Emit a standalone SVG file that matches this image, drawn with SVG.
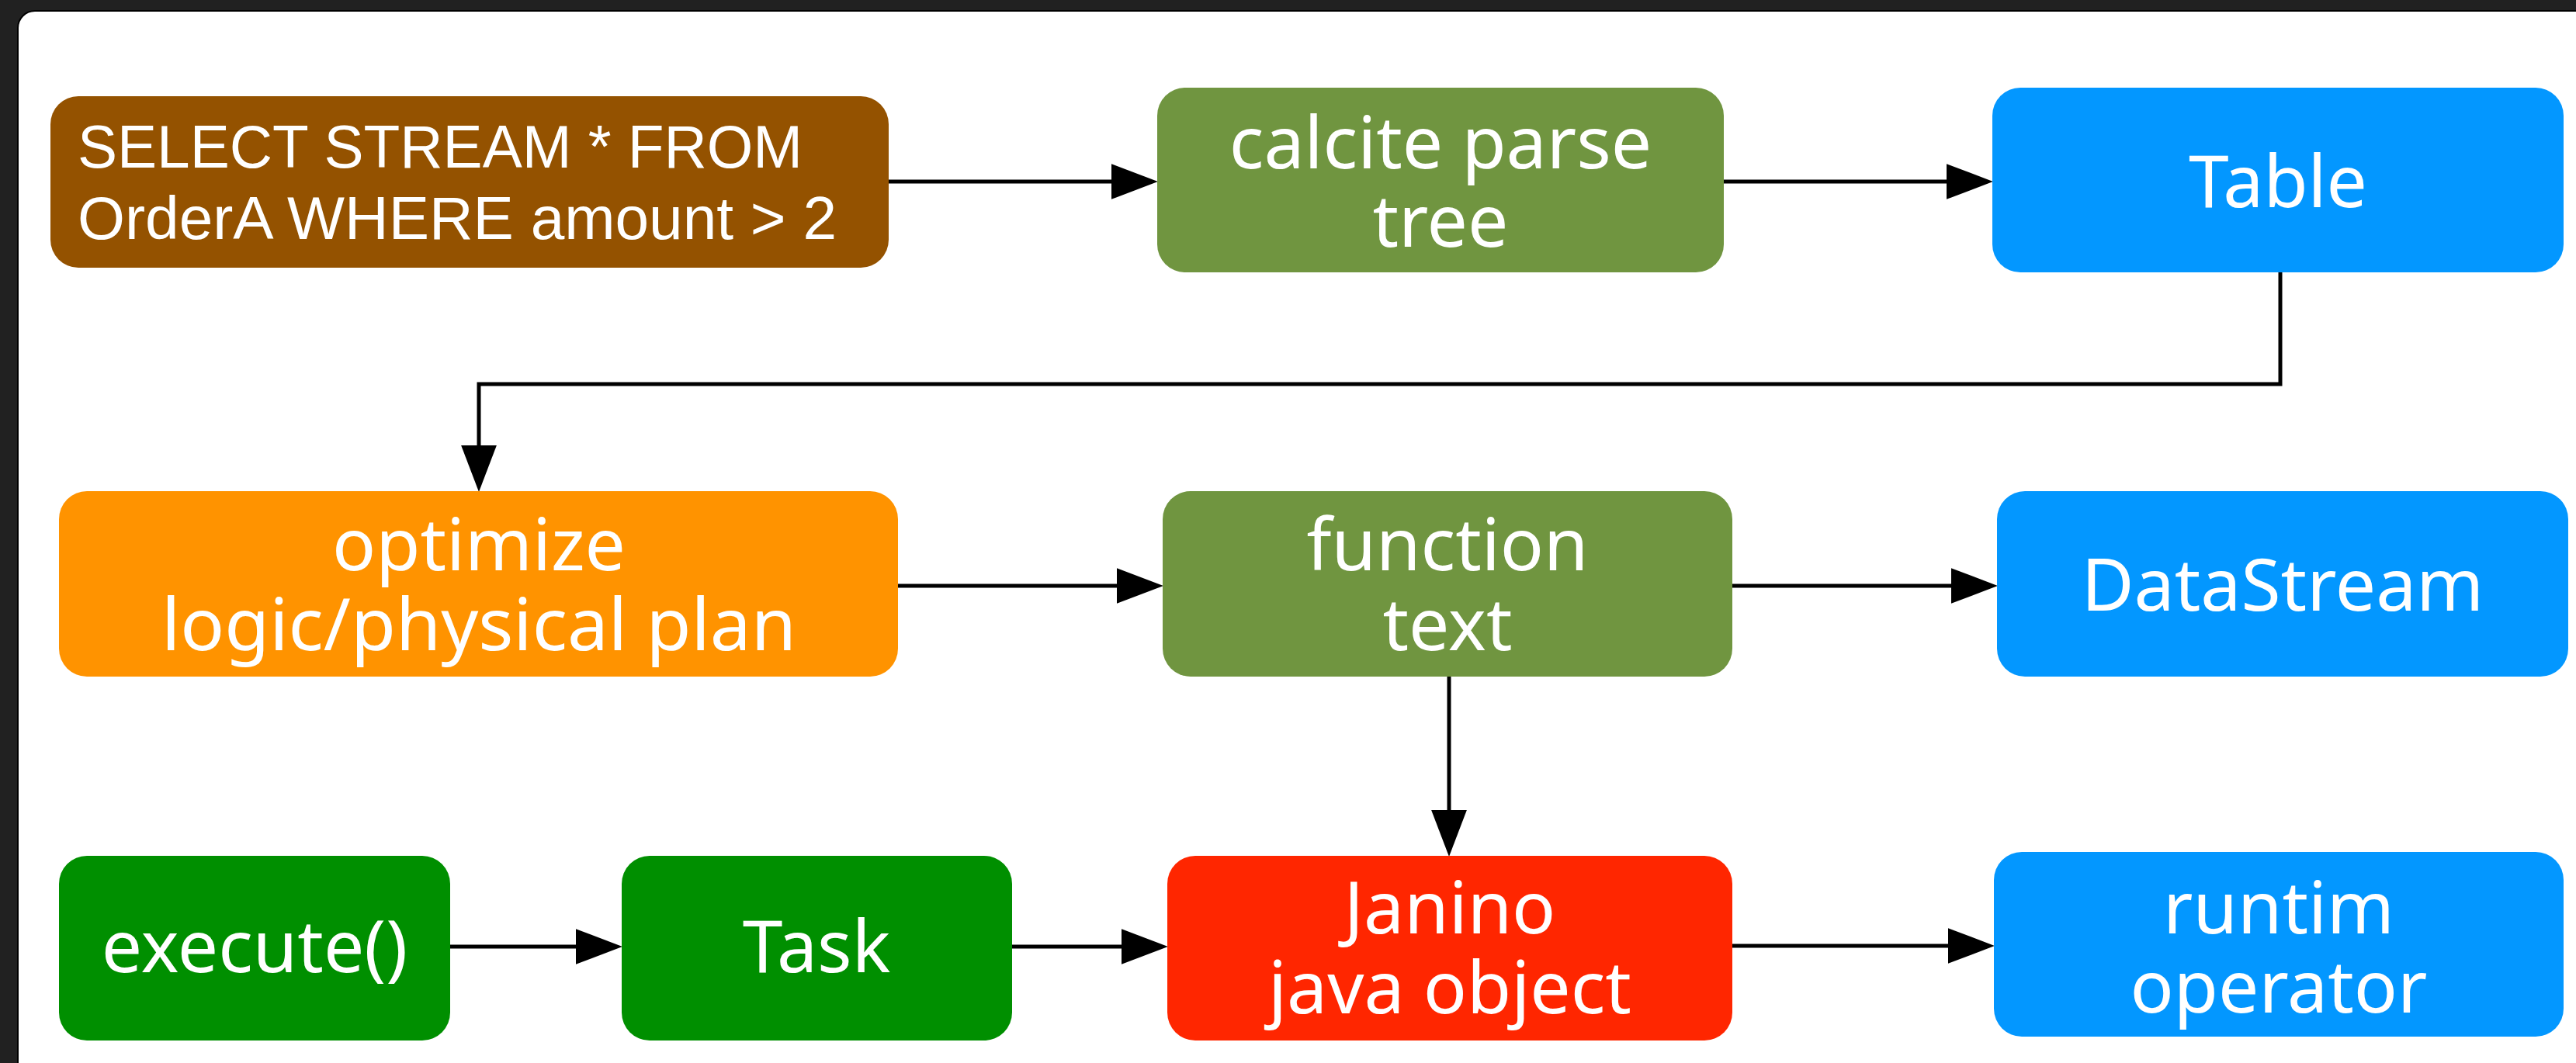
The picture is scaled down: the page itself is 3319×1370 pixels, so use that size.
<svg xmlns="http://www.w3.org/2000/svg" width="3319" height="1370" viewBox="0 0 3319 1370">
  <style>
    .node rect { rx: 36px; ry: 36px; }
    .label { font-family: "Noto Sans", "Open Sans", sans-serif; font-size: 93px; fill: #ffffff; text-anchor: middle; }
    .sql { font-family: "Liberation Sans", Arial, sans-serif; font-size: 78px; fill: #ffffff; }
    .edge { fill: none; stroke: #000000; stroke-width: 5; stroke-linejoin: miter; marker-end: url(#arrow); }
  </style>
  <defs>
    <marker id="arrow" markerUnits="userSpaceOnUse" markerWidth="60" markerHeight="46" viewBox="0 0 55 42" refX="45" refY="21" orient="auto">
      <path d="M0,0 L55,21 L0,42 Z" fill="#000000"/>
    </marker>
  </defs>

  <!-- window frame and canvas -->
  <rect x="0" y="0" width="3319" height="1370" fill="#212121"/>
  <rect x="23" y="14" width="3340" height="1390" rx="22" ry="22" fill="#ffffff" stroke="#000000" stroke-width="2"/>

  <!-- connectors -->
  <g id="connectors">
    <path class="edge" d="M1145,234 H1481"/>
    <path class="edge" d="M2221,234 H2557"/>
    <path class="edge" d="M2938,351 V495 H617 V623"/>
    <path class="edge" d="M1157,755 H1488"/>
    <path class="edge" d="M2232,755 H2563"/>
    <path class="edge" d="M1867,872 V1093"/>
    <path class="edge" d="M580,1220 H791"/>
    <path class="edge" d="M1304,1220 H1494"/>
    <path class="edge" d="M2232,1219 H2559"/>
  </g>

  <!-- row 1 -->
  <g id="sql-query" class="node">
    <rect x="65" y="124" width="1080" height="221" fill="#945200"/>
    <text class="sql" x="100" y="216" textLength="934" lengthAdjust="spacingAndGlyphs">SELECT STREAM * FROM</text>
    <text class="sql" x="100" y="308" textLength="978" lengthAdjust="spacingAndGlyphs">OrderA WHERE amount &gt; 2</text>
  </g>
  <g id="parse-tree" class="node">
    <rect x="1491" y="113" width="730" height="238" fill="#709540"/>
    <text class="label" x="1856" y="217">calcite parse</text>
    <text class="label" x="1856" y="318">tree</text>
  </g>
  <g id="table" class="node">
    <rect x="2567" y="113" width="736" height="238" fill="#0397ff"/>
    <text class="label" x="2935" y="267">Table</text>
  </g>

  <!-- row 2 -->
  <g id="optimize" class="node">
    <rect x="76" y="633" width="1081" height="239" fill="#ff9300"/>
    <text class="label" x="617" y="735">optimize</text>
    <text class="label" x="617" y="838" textLength="818" lengthAdjust="spacingAndGlyphs">logic/physical plan</text>
  </g>
  <g id="function-text" class="node">
    <rect x="1498" y="633" width="734" height="239" fill="#709540"/>
    <text class="label" x="1865" y="735">function</text>
    <text class="label" x="1865" y="838">text</text>
  </g>
  <g id="datastream" class="node">
    <rect x="2573" y="633" width="736" height="239" fill="#0397ff"/>
    <text class="label" x="2941" y="787">DataStream</text>
  </g>

  <!-- row 3 -->
  <g id="execute" class="node">
    <rect x="76" y="1103" width="504" height="238" fill="#008f00"/>
    <text class="label" x="328" y="1253">execute()</text>
  </g>
  <g id="task" class="node">
    <rect x="801" y="1103" width="503" height="238" fill="#008f00"/>
    <text class="label" x="1052" y="1253">Task</text>
  </g>
  <g id="janino" class="node">
    <rect x="1504" y="1103" width="728" height="238" fill="#ff2600"/>
    <text class="label" x="1868" y="1203">Janino</text>
    <text class="label" x="1868" y="1306">java object</text>
  </g>
  <g id="runtime-operator" class="node">
    <rect x="2569" y="1098" width="734" height="238" fill="#0397ff"/>
    <text class="label" x="2936" y="1203">runtim</text>
    <text class="label" x="2936" y="1305">operator</text>
  </g>
</svg>
